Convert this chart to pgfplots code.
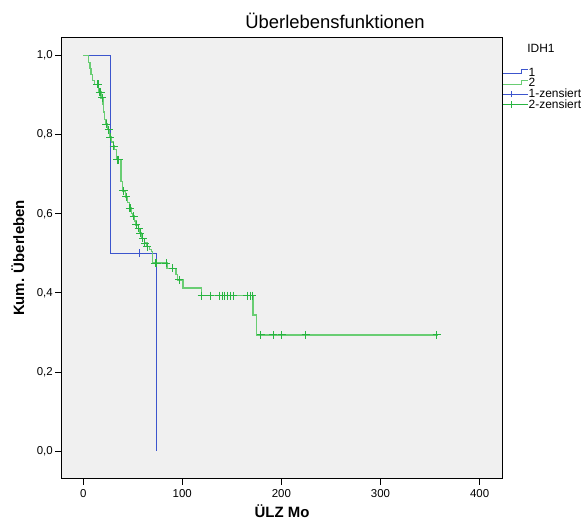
\documentclass[border=0pt]{standalone}
\usepackage{pgfplots}
\pgfplotsset{compat=1.18}
\usepackage{fontspec}
\setmainfont{Liberation Sans}
\definecolor{kmblue}{RGB}{60,85,205}
\definecolor{kmgreen}{RGB}{105,205,115}
\definecolor{kmgreenmark}{RGB}{40,180,65}
\definecolor{plotbg}{RGB}{240,240,240}

\begin{document}
\begin{tikzpicture}
\path[use as bounding box] (0,0) rectangle (583bp,520bp);
\begin{axis}[
    at={(61.3bp,41.3bp)}, anchor=south west,
    scale only axis,
    width=440.7bp, height=441.3bp,
    xmin=-22.1, xmax=422.6,
    ymin=-0.070, ymax=1.046,
    xtick={0,100,200,300,400},
    ytick={0,0.2,0.4,0.6,0.8,1.0},
    axis background/.style={fill=plotbg},
    axis line style={black, line width=0.9bp},
    tick style={black, line width=0.8bp},
    tick align=outside,
    major tick length=6bp,
    xtick pos=bottom, ytick pos=left,
    ticklabel style={font=\fontsize{11.5}{12}\selectfont},
    xticklabel style={yshift=-1bp},
    yticklabel style={xshift=1bp},
    /pgf/number format/assume math mode=true,
    yticklabel style={/pgf/number format/.cd, use comma, fixed, fixed zerofill, precision=1},
    xticklabel style={/pgf/number format/.cd, fixed, precision=0},
    legend style={draw=none, fill=none, at={(1,1)}, anchor=north west,
        xshift=0.5bp, yshift=-29.7bp,
        font=\fontsize{12}{12}\selectfont, inner sep=0pt,
        nodes={inner sep=0pt, text height=8.9bp, text depth=1.8bp},
        row sep=0pt, column sep=0pt, cells={anchor=west}},
    legend cell align=left,
    clip=false,
]
\addplot[kmblue, line width=1.1bp, const plot,
    legend image code/.code={\draw[kmblue, line width=1.1bp] (0bp,-1bp) -- (18bp,-1bp) -- (18bp,2.7bp) -- (24.5bp,2.7bp);}]
coordinates {(0,1.0) (28.0,0.5) (74.3,0.0)};
\addlegendentry{1}

\addplot[kmgreen, line width=1.5bp, const plot,
    legend image code/.code={\draw[kmgreen, line width=1.5bp] (0bp,-1bp) -- (18bp,-1bp) -- (18bp,2.7bp) -- (24.5bp,2.7bp);}]
table {
0 1.000
5.5 0.982
7.0 0.967
8.0 0.952
9.5 0.937
11.5 0.927
15.6 0.908
18.0 0.893
20.1 0.877
20.6 0.857
21.4 0.838
23.1 0.827
24.6 0.813
26.6 0.794
28.6 0.782
30.4 0.771
31.6 0.762
33.6 0.737
37.9 0.696
38.2 0.681
39.6 0.658
42.6 0.643
44.7 0.628
46.5 0.614
48.7 0.601
50.4 0.594
51.7 0.582
53.3 0.572
55.6 0.563
57.3 0.551
58.8 0.538
61.7 0.526
64.2 0.517
66.8 0.509
68.8 0.504
70.1 0.475
84.8 0.462
93.6 0.446
95.3 0.433
100.9 0.412
119.5 0.393
171.5 0.344
175.1 0.294
357.9 0.294
};
\addlegendentry{2}

\addplot[only marks, mark=+, mark size=4bp, kmblue, mark options={line width=0.9bp},
    legend image code/.code={\draw[kmblue, line width=0.9bp] (0bp,0bp) -- (24.5bp,0bp); \draw[kmblue, line width=0.9bp] (7.8bp,-3.3bp) -- (7.8bp,3.3bp);}]
coordinates {(56.3,0.5)};
\addlegendentry{1-zensiert}

\addplot[only marks, mark=+, mark size=4bp, kmgreenmark, mark options={line width=0.9bp},
    legend image code/.code={\draw[kmgreenmark, line width=0.9bp] (0bp,0bp) -- (24.5bp,0bp); \draw[kmgreenmark, line width=0.9bp] (7.8bp,-3.3bp) -- (7.8bp,3.3bp);}]
table {
14.0 0.927
15.1 0.927
16.5 0.908
17.5 0.908
19.0 0.893
23.3 0.827
25.6 0.813
27.4 0.794
30.8 0.771
34.6 0.737
35.7 0.737
40.4 0.658
41.1 0.658
43.2 0.643
46.9 0.614
47.7 0.614
51.0 0.594
53.7 0.572
56.0 0.563
57.7 0.551
60.1 0.538
62.3 0.526
64.7 0.517
72.4 0.475
74.2 0.475
83.5 0.475
90.3 0.462
96.9 0.433
119.5 0.393
128.0 0.393
137.4 0.393
140.3 0.393
143.0 0.393
145.8 0.393
148.1 0.393
151.5 0.393
165.5 0.393
168.3 0.393
170.3 0.393
179.1 0.294
191.9 0.294
200.3 0.294
224.5 0.294
356.7 0.294
};
\addlegendentry{2-zensiert}
\end{axis}
\node[anchor=base, font=\fontsize{18.5}{20}\selectfont] at (335bp,491bp) {Überlebensfunktionen};
\node[anchor=base, font=\bfseries\fontsize{15}{16}\selectfont] at (282bp,3bp) {ÜLZ Mo};
\node[anchor=base, rotate=90, font=\bfseries\fontsize{15}{16}\selectfont] at (24bp,262bp) {Kum. Überleben};
\node[anchor=base, font=\fontsize{12}{12}\selectfont] at (541bp,467.4bp) {IDH1};
\end{tikzpicture}
\end{document}
